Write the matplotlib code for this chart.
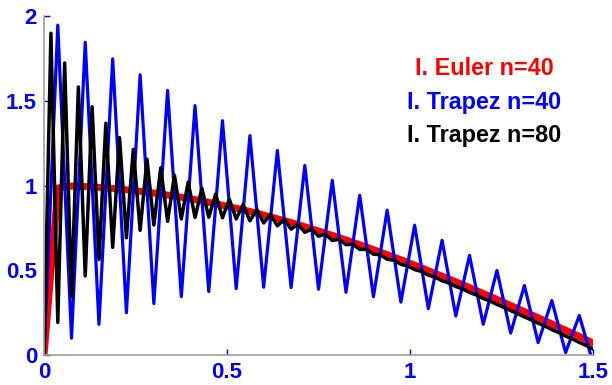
from __future__ import annotations

import matplotlib

matplotlib.use("Agg")
import matplotlib.pyplot as plt
import numpy as np

T_END = 1.5

# implicit Euler, n=40
euler_40 = [
    0.000, 0.986, 0.997, 0.994, 0.989, 0.983, 0.975, 0.966, 0.956, 0.944,
    0.931, 0.917, 0.901, 0.884, 0.866, 0.847, 0.826, 0.804, 0.782, 0.757,
    0.732, 0.706, 0.679, 0.651, 0.622, 0.592, 0.562, 0.530, 0.498, 0.465,
    0.432, 0.398, 0.363, 0.328, 0.292, 0.256, 0.220, 0.183, 0.146, 0.109,
    0.071,
]

# implicit trapezoidal rule, n=40
trapez_40 = [
    0.000, 1.947, 0.099, 1.846, 0.181, 1.748, 0.249, 1.654, 0.303, 1.562,
    0.344, 1.472, 0.374, 1.383, 0.392, 1.295, 0.400, 1.207, 0.398, 1.119,
    0.388, 1.031, 0.370, 0.943, 0.344, 0.855, 0.312, 0.766, 0.273, 0.677,
    0.230, 0.588, 0.181, 0.499, 0.129, 0.410, 0.073, 0.321, 0.014, 0.233,
    -0.047,
]

# implicit trapezoidal rule, n=80
trapez_80 = [
    0.000, 1.899, 0.192, 1.724, 0.345, 1.582, 0.467, 1.465, 0.563, 1.368,
    0.635, 1.283, 0.692, 1.214, 0.736, 1.156, 0.767, 1.105, 0.789, 1.061,
    0.803, 1.021, 0.812, 0.984, 0.813, 0.950, 0.810, 0.919, 0.803, 0.888,
    0.792, 0.859, 0.779, 0.830, 0.762, 0.801, 0.743, 0.772, 0.724, 0.743,
    0.701, 0.713, 0.676, 0.683, 0.651, 0.654, 0.623, 0.623, 0.595, 0.591,
    0.565, 0.559, 0.535, 0.526, 0.504, 0.493, 0.471, 0.459, 0.438, 0.425,
    0.404, 0.390, 0.369, 0.354, 0.333, 0.318, 0.298, 0.281, 0.262, 0.244,
    0.225, 0.207, 0.188, 0.170, 0.150, 0.132, 0.112, 0.094, 0.074, 0.056,
    0.035,
]

labels = ["I. Euler n=40", "I. Trapez n=40", "I. Trapez n=80"]
x_ticks = [0, 0.5, 1, 1.5]
x_ticklabels = ["0", "0.5", "1", "1.5"]
y_ticks = [0, 0.5, 1, 1.5, 2]
y_ticklabels = ["0", "0.5", "1", "1.5", "2"]

FONT = "Liberation Sans"
BLUE = "#0000ff"
RED = "#ff0000"


def grid_for(values: list[float]) -> np.ndarray:
    return np.linspace(0.0, T_END, len(values))


def main() -> None:
    fig = plt.figure(figsize=(6.12, 3.85), dpi=100)
    ax = fig.add_axes([0.072, 0.078, 0.897, 0.880])

    ax.plot(grid_for(euler_40), euler_40, color=RED, lw=5.0)
    ax.plot(grid_for(trapez_40), trapez_40, color=BLUE, lw=2.3)
    ax.plot(grid_for(trapez_80), trapez_80, color="black", lw=2.5)

    ax.set_xlim(0, T_END)
    ax.set_ylim(0, 2)
    ax.set_xticks(x_ticks)
    ax.set_xticklabels(x_ticklabels)
    ax.set_yticks(y_ticks)
    ax.set_yticklabels(y_ticklabels)
    ax.tick_params(direction="in", length=4, width=1, color=BLUE, labelcolor=BLUE, pad=5)
    for lab in ax.get_xticklabels() + ax.get_yticklabels():
        lab.set_fontfamily(FONT)
        lab.set_fontweight("bold")
        lab.set_fontsize(16)

    for side in ("top", "right"):
        ax.spines[side].set_visible(False)
    for side in ("left", "bottom"):
        ax.spines[side].set_color("#a0a0a0")
        ax.spines[side].set_linewidth(1.2)

    # labels written next to the curves instead of a legend box
    txt = dict(family=FONT, fontweight="bold", fontsize=16.8, va="center", ha="left")
    ax.text(1.014, 1.693, labels[0], color=RED, **txt)
    ax.text(0.992, 1.493, labels[1], color=BLUE, **txt)
    ax.text(0.992, 1.298, labels[2], color="black", **txt)

    fig.savefig("out.png", dpi=100)


if __name__ == "__main__":
    main()
